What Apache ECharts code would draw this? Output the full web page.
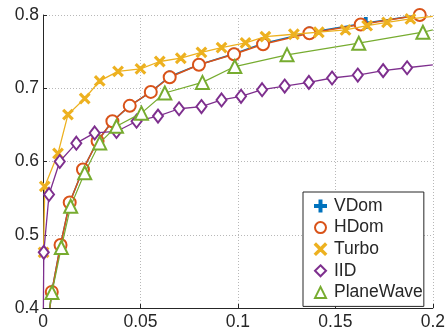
<!DOCTYPE html>
<html><head><meta charset="utf-8">
<script src="https://cdn.jsdelivr.net/npm/echarts@6/dist/echarts.min.js"></script>
<style>html,body{margin:0;padding:0;background:#fff}#c{width:448px;height:331px}</style>
</head><body><div id="c"></div>
<script>
const seriesNames = ['VDom','HDom','Turbo','IID','PlaneWave'];
const xTicks = ['0','0.05','0.1','0.15','0.2'];
const yTicks = ['0.4','0.5','0.6','0.7','0.8'];

const vdomX = [0.0035,0.0045,0.009,0.0137,0.0205,0.028,0.0356,0.0445,0.0553,0.065,0.080,0.098,0.1129,0.1367,0.1656,0.1933];
const vdomY = [0.40,0.422,0.486,0.544,0.589,0.628,0.655,0.676,0.695,0.716,0.732,0.747,0.761,0.776,0.789,0.800];
const hdomX = [0.0035,0.0045,0.009,0.0137,0.0205,0.028,0.0356,0.0445,0.0553,0.065,0.080,0.098,0.1129,0.1367,0.163,0.1933];
const hdomY = [0.40,0.422,0.486,0.544,0.589,0.628,0.655,0.676,0.695,0.715,0.732,0.7465,0.760,0.775,0.787,0.800];
const turboX = [0.0003,0.0009,0.0077,0.0128,0.0214,0.0291,0.0385,0.050,0.0599,0.0707,0.0813,0.0916,0.1039,0.1141,0.1287,0.1415,0.1552,0.1663,0.1765,0.1885,0.2];
const turboY = [0.476,0.566,0.611,0.664,0.686,0.710,0.723,0.7265,0.7365,0.741,0.749,0.7555,0.762,0.7705,0.7737,0.7765,0.7796,0.7854,0.790,0.7946,0.798];
const iidX = [0.0002,0.0004,0.0031,0.0086,0.0171,0.0265,0.0377,0.048,0.059,0.0698,0.0813,0.0916,0.1016,0.1124,0.124,0.1364,0.1483,0.1615,0.1745,0.1868,0.2];
const iidY = [0.40,0.476,0.555,0.600,0.625,0.639,0.641,0.655,0.662,0.672,0.675,0.684,0.689,0.698,0.703,0.708,0.714,0.718,0.724,0.728,0.732];
const pwX = [0.0034,0.0046,0.0094,0.0142,0.0214,0.0291,0.0377,0.0505,0.0625,0.0818,0.0984,0.1252,0.162,0.1949,0.2];
const pwY = [0.40,0.421,0.4826,0.539,0.5846,0.6254,0.648,0.666,0.6935,0.708,0.7296,0.7456,0.7615,0.7765,0.7796];

const colors = ['#0072BD','#D95319','#EDB120','#7E2F8E','#77AC30'];
const plusPath = 'path://M4.1,0H5.9V4.1H10V5.9H5.9V10H4.1V5.9H0V4.1H4.1Z';
const xPath = 'path://M0,0.9L0.9,0L5,4.1L9.1,0L10,0.9L5.9,5L10,9.1L9.1,10L5,5.9L0.9,10L0,9.1L4.1,5Z';
const symbols = [plusPath,'emptyCircle',xPath,'emptyDiamond','emptyTriangle'];
const sizes = [10,12,9,[10,13],13];
const lw = [1.5,1.5,1.3,1.3,1.2];
const XS = [vdomX,hdomX,turboX,iidX,pwX], YS = [vdomY,hdomY,turboY,iidY,pwY];

function build(i){
  return XS[i].map((x,k)=>{
    const y = YS[i][k];
    const item = {value:[x,y]};
    if (y <= 0.4 || x >= 0.2) item.symbol = 'none';
    return item;
  });
}
const font = 'Liberation Sans, Arial, Helvetica, sans-serif';
const chart = echarts.init(document.getElementById('c'));
chart.setOption({
  animation:false,
  grid:{left:43,right:15,top:15,bottom:22,containLabel:false},
  xAxis:{type:'value',min:0,max:0.2,interval:0.05,
    axisLine:{show:true,onZero:false,lineStyle:{color:'#262626',width:1}},
    axisTick:{show:true,inside:true,length:4,lineStyle:{color:'#262626'}},
    axisLabel:{color:'#262626',fontSize:17.5,fontFamily:font,margin:5,
      formatter:(v)=>xTicks[Math.round(v/0.05)]},
    splitLine:{show:true,lineStyle:{color:'#b8b8b8',type:[1,2],width:1}}},
  yAxis:{type:'value',min:0.4,max:0.8,interval:0.1,
    axisLine:{show:true,onZero:false,lineStyle:{color:'#262626',width:1}},
    axisTick:{show:true,inside:true,length:4,lineStyle:{color:'#262626'}},
    axisLabel:{color:'#262626',fontSize:17.5,fontFamily:font,margin:4,
      formatter:(v)=>yTicks[Math.round((v-0.4)/0.1)]},
    splitLine:{show:true,lineStyle:{color:'#b8b8b8',type:[1,2],width:1}}},
  legend:{orient:'vertical',left:303,top:192,
    padding:[5,1,5,11],itemGap:3.6,itemWidth:11,itemHeight:11,
    backgroundColor:'#fff',borderColor:'#262626',borderWidth:1,borderRadius:0,
    textStyle:{color:'#262626',fontSize:17.5,fontFamily:font,padding:[0,0,0,3]},
    data:seriesNames.map((n,i)=>({name:n,icon:symbols[i],
      itemStyle: i===0||i===2 ? {color:colors[i]} : {color:colors[i],borderColor:colors[i]}}))},
  series:seriesNames.map((n,i)=>({
    name:n,type:'line',data:build(i),
    symbol:symbols[i],symbolSize:sizes[i],showAllSymbol:true,
    color:colors[i],
    lineStyle:{color:colors[i],width:lw[i]},
    itemStyle:{color:colors[i],borderColor:colors[i],borderWidth:2},
    clip:true,z:2+i
  }))
});
</script></body></html>
